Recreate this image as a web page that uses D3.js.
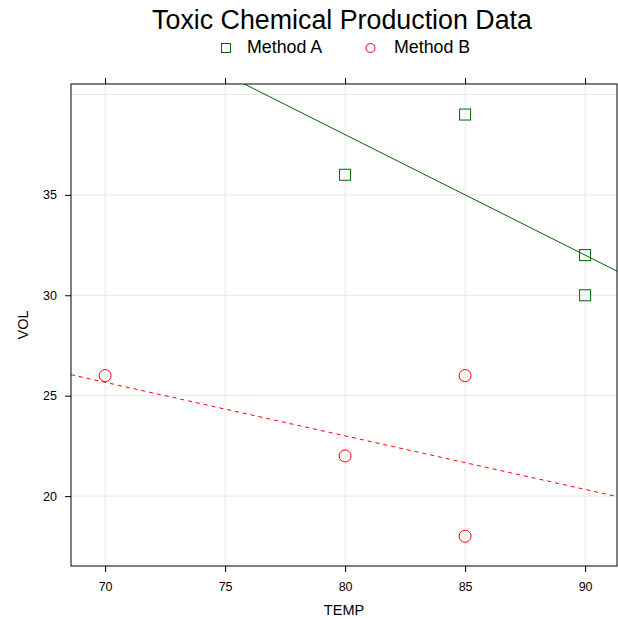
<!DOCTYPE html>
<html>
<head>
<meta charset="utf-8">
<script src="https://cdn.jsdelivr.net/npm/d3@7"></script>
<style>
  body { margin: 0; background: #fff; }
  text { font-family: "Liberation Sans", Arial, sans-serif; fill: #000; }
</style>
</head>
<body>
<div id="chart"></div>
<script>
// data
var tempA = [80, 85, 90, 90];
var volA = [36, 39, 32, 30];
var tempB = [70, 80, 85, 85];
var volB = [26, 22, 26, 18];
var seriesNames = ["Method A", "Method B"];
var xTicks = [70, 75, 80, 85, 90];
var yTicks = [20, 25, 30, 35];
var yGrid = [20, 25, 30, 35, 40];

var width = 618, height = 620;
// panel edges (note: "top" is taken by window.top)
var pLeft = 71, pRight = 617, pTop = 84, pBottom = 566;

var svg = d3.select("#chart").append("svg")
    .attr("width", width)
    .attr("height", height);

var x = d3.scaleLinear().domain([68.58, 91.33]).range([pLeft, pRight]);
var y = d3.scaleLinear().domain([16.52, 40.52]).range([pBottom, pTop]);

svg.append("defs").append("clipPath").attr("id", "panel")
  .append("rect")
    .attr("x", pLeft).attr("y", pTop)
    .attr("width", pRight - pLeft).attr("height", pBottom - pTop);

// grid
svg.append("g")
  .selectAll("line")
    .data(xTicks)
  .enter().append("line")
    .attr("x1", function(d) { return x(d); })
    .attr("x2", function(d) { return x(d); })
    .attr("y1", pTop).attr("y2", pBottom)
    .attr("stroke", "#e6e6e6");

svg.append("g")
  .selectAll("line")
    .data(yGrid)
  .enter().append("line")
    .attr("y1", function(d) { return y(d); })
    .attr("y2", function(d) { return y(d); })
    .attr("x1", pLeft).attr("x2", pRight)
    .attr("stroke", "#e6e6e6");

// axes
function styleAxis(g) {
  g.select(".domain").remove();
  g.selectAll(".tick line").attr("stroke", "#000");
  g.selectAll(".tick text").style("font-size", "12.5px").attr("fill", "#000");
}

svg.append("g")
    .attr("transform", "translate(0," + pBottom + ")")
    .call(d3.axisBottom(x).tickValues(xTicks).tickSize(6).tickPadding(10))
    .call(styleAxis);

svg.append("g")
    .attr("transform", "translate(0," + pTop + ")")
    .call(d3.axisTop(x).tickValues(xTicks).tickSize(6).tickFormat(""))
    .call(styleAxis);

svg.append("g")
    .attr("transform", "translate(" + pLeft + ",0)")
    .call(d3.axisLeft(y).tickValues(yTicks).tickSize(6).tickPadding(8))
    .call(styleAxis);

// regression lines
function fit(xs, ys) {
  var mx = d3.mean(xs), my = d3.mean(ys);
  var sxy = d3.sum(xs, function(v, i) { return (v - mx) * (ys[i] - my); });
  var sxx = d3.sum(xs, function(v) { return (v - mx) * (v - mx); });
  var b = sxy / sxx;
  return function(t) { return my + b * (t - mx); };
}

var plot = svg.append("g").attr("clip-path", "url(#panel)");
var ends = x.domain();

var fa = fit(tempA, volA);
plot.append("line")
    .attr("x1", x(ends[0])).attr("y1", y(fa(ends[0])))
    .attr("x2", x(ends[1])).attr("y2", y(fa(ends[1])))
    .attr("stroke", "#006400").attr("stroke-width", 1);

var fb = fit(tempB, volB);
plot.append("line")
    .attr("x1", x(ends[0])).attr("y1", y(fb(ends[0])))
    .attr("x2", x(ends[1])).attr("y2", y(fb(ends[1])))
    .attr("stroke", "#ff0000").attr("stroke-width", 1)
    .attr("stroke-dasharray", "4,4");

// points
plot.append("g")
  .selectAll("rect")
    .data(tempA)
  .enter().append("rect")
    .attr("x", function(d) { return x(d) - 5.5; })
    .attr("y", function(d, i) { return y(volA[i]) - 5.5; })
    .attr("width", 11).attr("height", 11)
    .attr("fill", "none")
    .attr("stroke", "#006400");

plot.append("g")
  .selectAll("circle")
    .data(tempB)
  .enter().append("circle")
    .attr("cx", function(d) { return x(d); })
    .attr("cy", function(d, i) { return y(volB[i]); })
    .attr("r", 6)
    .attr("fill", "none")
    .attr("stroke", "#ff0000");

// panel frame
svg.append("rect")
    .attr("x", pLeft).attr("y", pTop)
    .attr("width", pRight - pLeft).attr("height", pBottom - pTop)
    .attr("fill", "none")
    .attr("stroke", "#000");

// title, labels
svg.append("text")
    .attr("x", 342).attr("y", 29)
    .attr("text-anchor", "middle")
    .style("font-size", "26.8px")
    .text("Toxic Chemical Production Data");

svg.append("text")
    .attr("x", (pLeft + pRight) / 2).attr("y", 615)
    .attr("text-anchor", "middle")
    .style("font-size", "14.5px")
    .text("TEMP");

svg.append("text")
    .attr("transform", "translate(28," + (pTop + pBottom) / 2 + ") rotate(-90)")
    .attr("text-anchor", "middle")
    .style("font-size", "14.5px")
    .text("VOL");

// legend
var legend = svg.append("g");
legend.append("rect")
    .attr("x", 221.5).attr("y", 43.5).attr("width", 9).attr("height", 9)
    .attr("fill", "none").attr("stroke", "#006400");
legend.append("text")
    .attr("x", 247).attr("y", 53)
    .style("font-size", "17.8px")
    .text(seriesNames[0]);
legend.append("circle")
    .attr("cx", 370.5).attr("cy", 48).attr("r", 4.5)
    .attr("fill", "none").attr("stroke", "#ff0000");
legend.append("text")
    .attr("x", 394).attr("y", 53)
    .style("font-size", "17.8px")
    .text(seriesNames[1]);
</script>
</body>
</html>
